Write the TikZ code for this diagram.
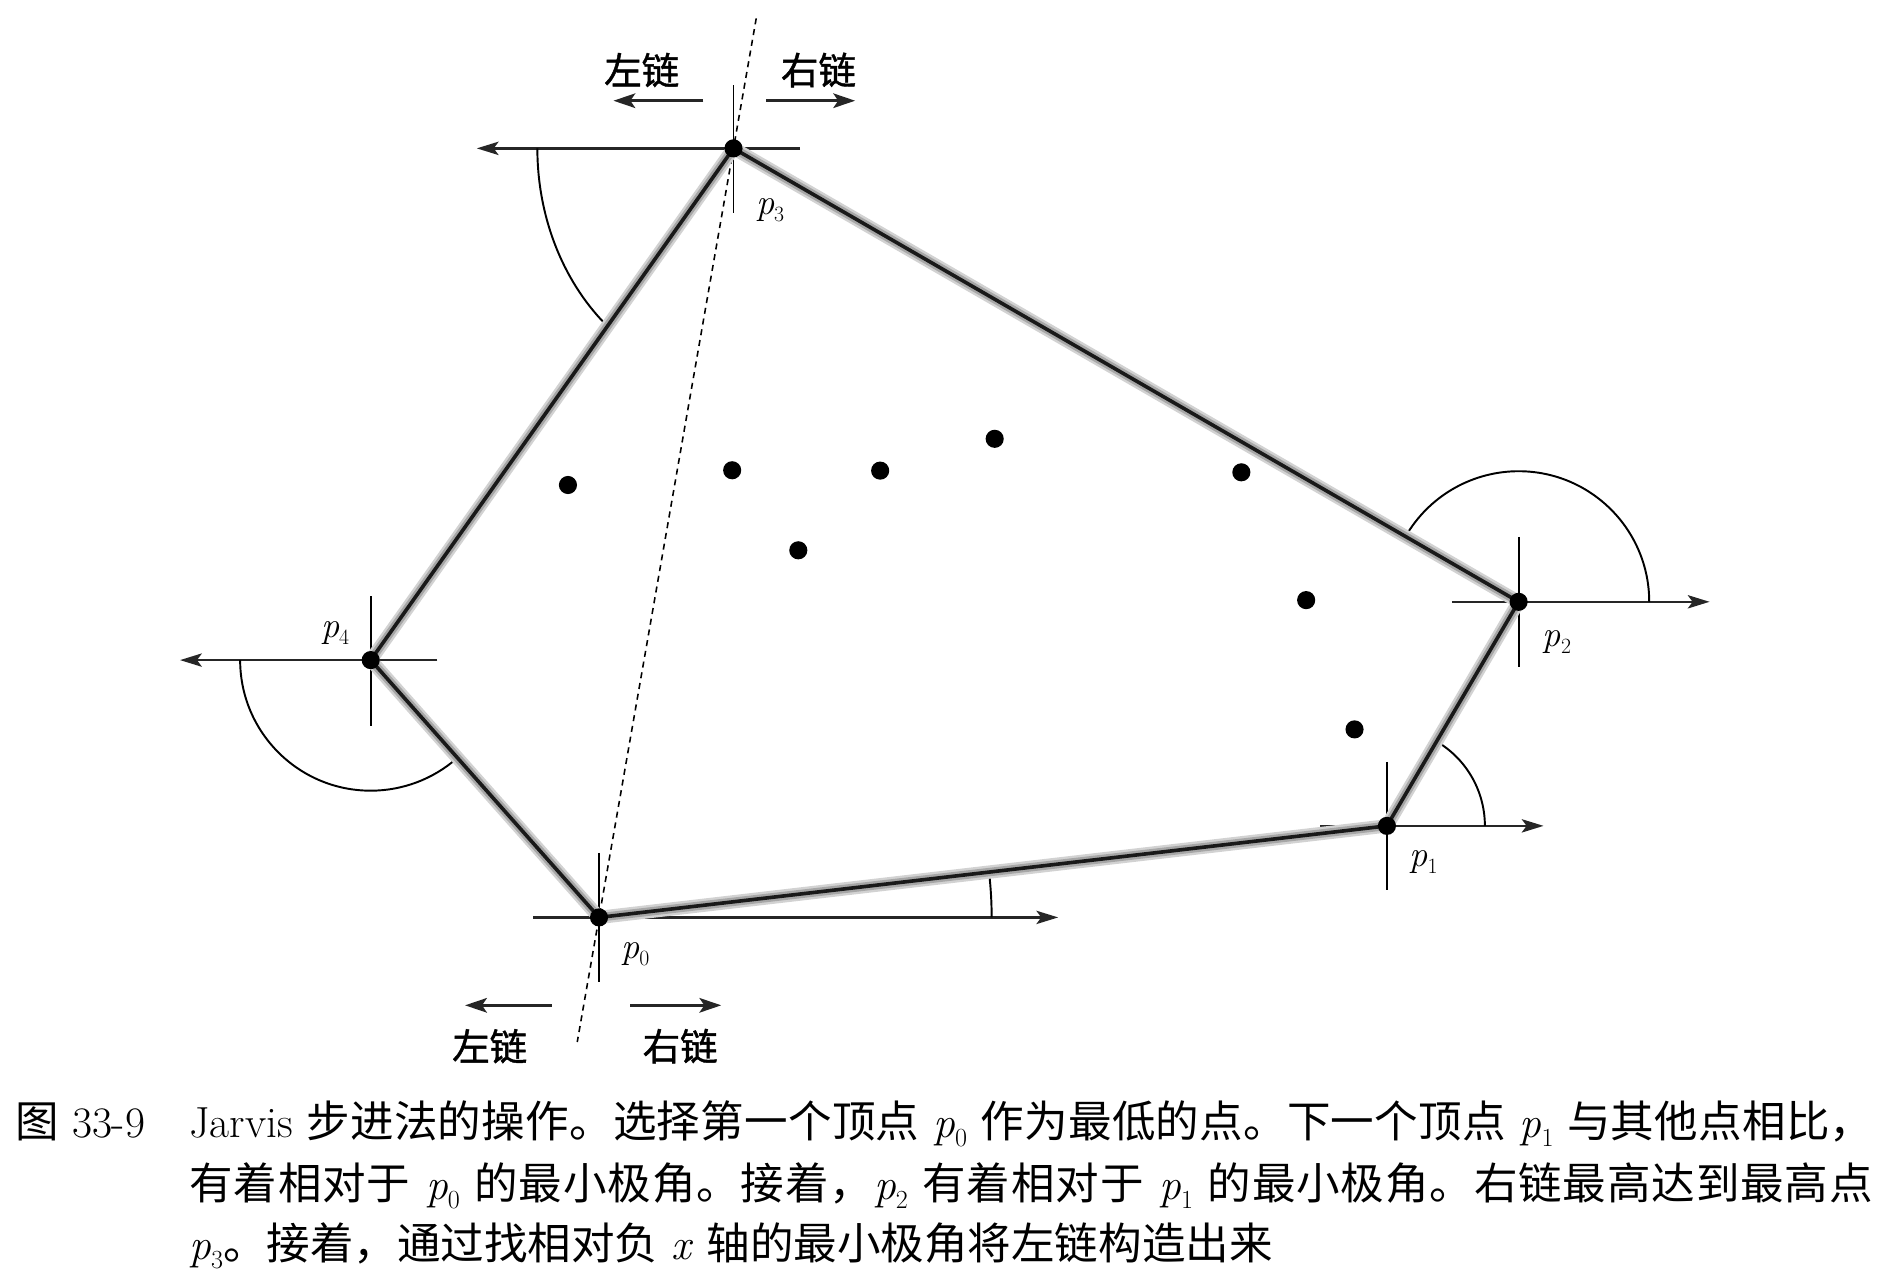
\documentclass[tikz,border=0pt]{standalone}
\usepackage{fontspec}
\newfontfamily\cjk{Noto Sans CJK SC}
\newfontfamily\cjkm{Noto Sans CJK SC}[FakeBold=1.2]
\usetikzlibrary{arrows.meta,calc}
\def\zhloop#1{\ifx#1\relax\else#1\hskip0pt plus 3pt\expandafter\zhloop\fi}
\newcommand\zh[1]{{\cjk\zhloop#1\relax}}
\newcommand\pl[1]{\textit{p}\raisebox{-0.2em}{\fontsize{0.6em}{0.6em}\selectfont #1}}
\begin{document}
\begin{tikzpicture}[x=1pt,y=-1pt,
  thin/.style={line width=1.6pt},
  axisarrow/.style={line width=1.9pt,black!85,-{Stealth[length=18pt,width=11pt,inset=4pt]}},
  chainarrow/.style={line width=2.6pt,black!85,-{Stealth[length=18pt,width=12pt,inset=4pt]}},
  hullout/.style={line width=11pt,gray!35,line join=round},
  hullmid/.style={line width=7pt,gray!70,line join=round},
  hullin/.style={line width=3pt,black!90,line join=round},
  dashline/.style={line width=1.3pt,dash pattern=on 5pt off 4pt},
  dot/.style={circle,fill=black,inner sep=0pt,minimum size=15pt},
  plabel/.style={font=\fontsize{30}{34}\selectfont,inner sep=0pt},
  chainlbl/.style={font=\fontsize{31}{34}\selectfont\cjkm,inner sep=0pt},
  caption/.style={font=\fontsize{36}{40}\selectfont,inner sep=0pt,anchor=base west}]
\useasboundingbox (0,0) rectangle (1568,1059);
% hull vertices
\coordinate (c0) at (495.4,758.7);
\coordinate (c1) at (1147,683);
\coordinate (c2) at (1255.9,497.7);
\coordinate (c3) at (606.6,122.7);
\coordinate (c4) at (306.6,545.9);
% cross ticks and axis arrows
\draw[thin] (c3) ++(0,-52.4) -- ++(0,105.6);
\draw[axisarrow] (c3) ++(55.1,0) -- ++(-267.4,0);
\draw[thin] (c2) ++(0,-53.8) -- ++(0,107.5);
\draw[axisarrow] (c2) ++(-55.2,0) -- ++(213.1,0);
\draw[thin] (c1) ++(0,-53) -- ++(0,106.1);
\draw[axisarrow] (c1) ++(-55.2,0) -- ++(184.7,0);
\draw[thin] (c0) ++(0,-53.4) -- ++(0,106.7);
\draw[axisarrow] (c0) ++(-54.4,0) -- ++(434.1,0);
\draw[thin] (c4) ++(0,-52.9) -- ++(0,107);
\draw[axisarrow] (c4) ++(55.1,0) -- ++(-212.8,0);
% angle arcs
\draw[thin] (c3) ++(-162.2,0) arc[start angle=180,end angle=131,x radius=162.2,y radius=192];
\draw[thin] (c4) ++(-108,0) arc[start angle=180,end angle=49,radius=108];
\draw[thin] (c2) ++(108,0) arc[start angle=0,end angle=-148,radius=108];
\draw[thin] (c1) ++(81,0) arc[start angle=0,end angle=-58,radius=81];
\draw[thin] (c0) ++(324.7,0) arc[start angle=0,end angle=-6.63,radius=324.7];
% dashed dividing line
\coordinate (dtop) at ($(c3)!-0.169!(c0)$);
\coordinate (dbot) at ($(c0)!-0.162!(c3)$);
\draw[dashline] (dtop) -- (dbot);
% hull
\draw[hullout] (c0) -- (c1) -- (c2) -- (c3) -- (c4) -- cycle;
\draw[hullmid] (c0) -- (c1) -- (c2) -- (c3) -- (c4) -- cycle;
\draw[hullin] (c0) -- (c1) -- (c2) -- (c3) -- (c4) -- cycle;
% points
\node[dot] (p0) at (c0) {};
\node[dot] (p1) at (c1) {};
\node[dot] (p2) at (c2) {};
\node[dot] (p3) at (c3) {};
\node[dot] (p4) at (c4) {};
\node[dot] (q1) at (469.7,401.1) {};
\node[dot] (q2) at (605.5,388.9) {};
\node[dot] (q3) at (727.9,389.2) {};
\node[dot] (q4) at (822.6,362.9) {};
\node[dot] (q5) at (1026.6,390.6) {};
\node[dot] (q6) at (660.2,455.1) {};
\node[dot] (q7) at (1080.2,496.3) {};
\node[dot] (q8) at (1120.2,603.2) {};
% vertex labels
\node[plabel] (l0) at (525.4,789.3) {\pl{0}};
\node[plabel] (l1) at (1177.3,712.7) {\pl{1}};
\node[plabel] (l2) at (1287.6,530.7) {\pl{2}};
\node[plabel] (l3) at (636.9,173.7) {\pl{3}};
\node[plabel] (l4) at (277.1,523.8) {\pl{4}};
% chain arrows
\coordinate (tla) at (581.7,83.3);
\coordinate (tlb) at (507.3,83.3);
\coordinate (tra) at (633.6,83.3);
\coordinate (trb) at (707.2,83.3);
\coordinate (bla) at (456.3,831.4);
\coordinate (blb) at (384.6,831.4);
\coordinate (bra) at (521.3,831.4);
\coordinate (brb) at (596.5,831.4);
\draw[chainarrow] (tla) -- (tlb);
\draw[chainarrow] (tra) -- (trb);
\draw[chainarrow] (bla) -- (blb);
\draw[chainarrow] (bra) -- (brb);
\node[chainlbl] (tl) at (530.7,57.9) {左链};
\node[chainlbl] (tr) at (676.9,57.9) {右链};
\node[chainlbl] (bl) at (405,865.2) {左链};
\node[chainlbl] (br) at (562.5,865.2) {右链};
% caption
\node[caption] (fig) at (12.5,941) {{\cjk 图} 33-9};
\node[caption] (cap1) at (156.4,941) {\makebox[1393pt][s]{Jarvis \zh{步进法的操作。选择第一个顶点} \pl{0} \zh{作为最低的点。下一个顶点} \pl{1} \zh{与其他点相比，}}};
\node[caption] (cap2) at (156.4,992) {\makebox[1393pt][s]{\zh{有着相对于} \pl{0} \zh{的最小极角。接着，}\pl{2} \zh{有着相对于} \pl{1} \zh{的最小极角。右链最高达到最高点}}};
\node[caption] (cap3) at (156.4,1042) {\pl{3}{\cjk 。接着，通过找相对负} \textit{x} {\cjk 轴的最小极角将左链构造出来}};
\end{tikzpicture}
\end{document}
